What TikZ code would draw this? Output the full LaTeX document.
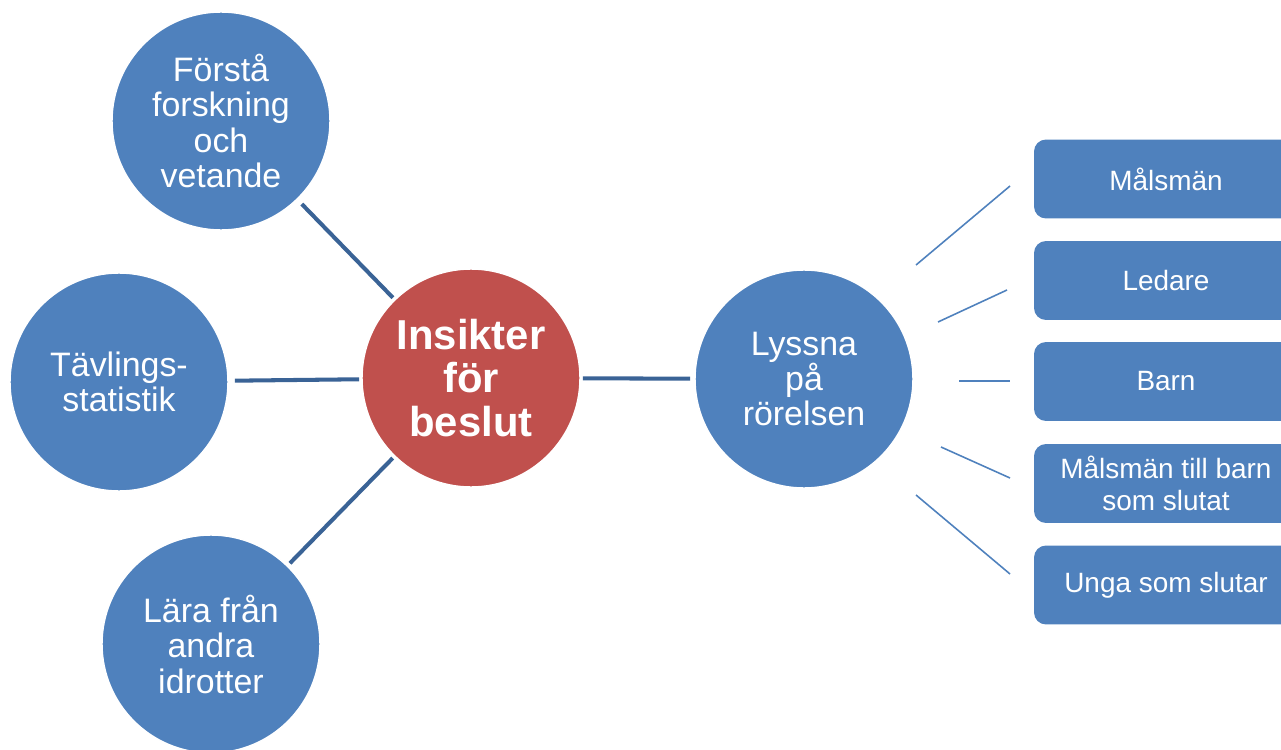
\documentclass[tikz,border=0pt]{standalone}
\usepackage{fontspec}
\setmainfont{Liberation Sans}
\definecolor{nodeblue}{HTML}{4F81BD}
\definecolor{nodered}{HTML}{C0504D}
\definecolor{linkblue}{HTML}{3A6396}
\tikzset{
  bigcircle/.style={circle, fill=nodeblue, draw=white, line width=0.8pt,
    minimum size=4.36cm, inner sep=0pt, outer sep=0pt, text=white, align=center,
    font=\fontsize{19.3}{20.2}\selectfont},
  hubcircle/.style={bigcircle, fill=nodered,
    font=\bfseries\fontsize{23.8}{24.9}\selectfont},
  itembox/.style={rectangle, rounded corners=0.24cm, fill=nodeblue,
    minimum width=5.28cm, minimum height=1.58cm, inner sep=0pt, outer sep=0pt,
    text=white, align=center, font=\fontsize{15.9}{18.4}\selectfont},
  thicklink/.style={draw=linkblue, line width=2.3pt},
  thinlink/.style={draw=nodeblue, line width=0.9pt}
}
\begin{document}
\begin{tikzpicture}[x=0.02cm, y=-0.02cm]
\useasboundingbox (0,0) rectangle (1281,750);
\clip (0,0) rectangle (1281,750);

% hub and the four circles around it
\node[hubcircle] (insikt) at (471,378) {Insikter\\för\\beslut};
\node[bigcircle] (forsta) at (221,121) {Förstå\\forskning\\och\\vetande};
\node[bigcircle] (tavling) at (119,382) {Tävlings-\\statistik};
\node[bigcircle] (lara) at (211,644) {Lära från\\andra\\idrotter};
\node[bigcircle] (lyssna) at (804,379) {Lyssna\\på\\rörelsen};

% thick spokes from the hub
\draw[thicklink, shorten <=7pt*0.567, shorten >=3pt*0.567] (forsta) -- (insikt);
\draw[thicklink, shorten <=7pt*0.567, shorten >=3pt*0.567] (tavling) -- (insikt);
\draw[thicklink, shorten <=4pt*0.567, shorten >=3pt*0.567] (lara) -- (insikt);
\draw[thicklink, shorten <=3pt*0.567, shorten >=5pt*0.567] (insikt) -- (lyssna);

% groups that are listened to
\node[itembox] (b1) at (1166,179) {Målsmän};
\node[itembox] (b2) at (1166,280.5) {Ledare};
\node[itembox] (b3) at (1166,381.5) {Barn};
\node[itembox] (b4) at (1166,483.5) {Målsmän till barn\\som slutat};
\node[itembox] (b5) at (1166,585) {Unga som slutar};

% thin fan lines between the circle and the boxes
\coordinate (s1) at (916,265);  \coordinate (e1) at (1010,186);
\coordinate (s2) at (938,322);  \coordinate (e2) at (1007,290);
\coordinate (s3) at (959,381);  \coordinate (e3) at (1010,381);
\coordinate (s4) at (941,447);  \coordinate (e4) at (1010,478);
\coordinate (s5) at (916,495);  \coordinate (e5) at (1010,574);
\foreach \i in {1,...,5} { \draw[thinlink] (s\i) -- (e\i); }
\end{tikzpicture}
\end{document}
